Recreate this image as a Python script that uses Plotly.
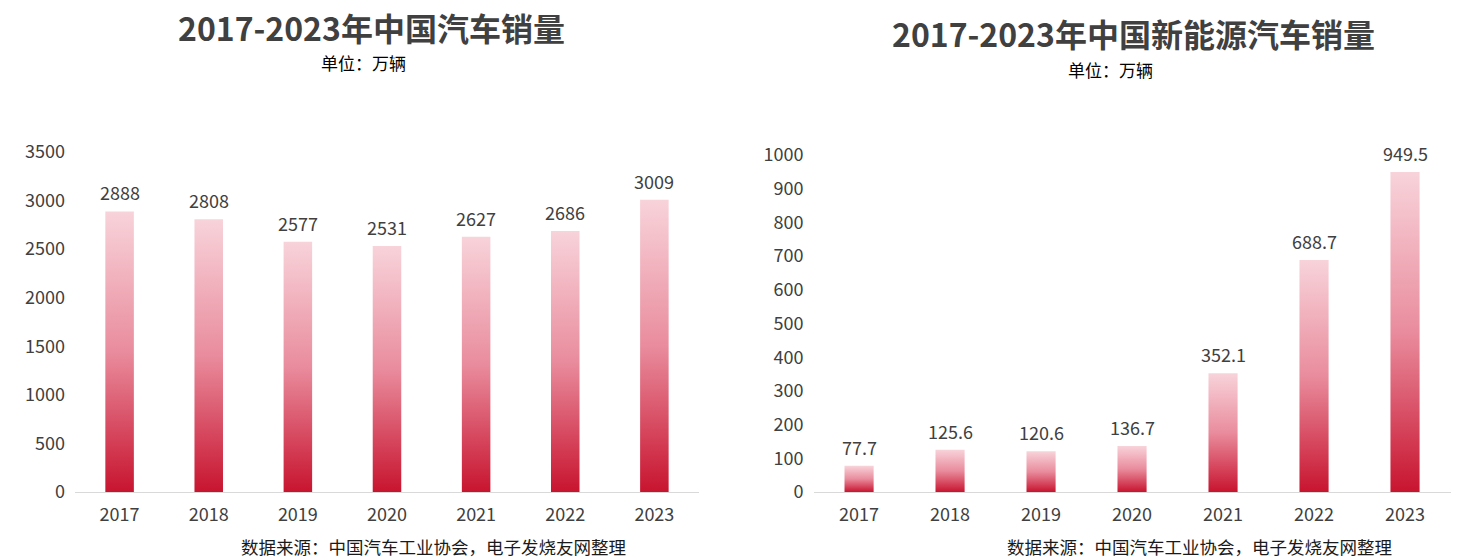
import plotly.graph_objects as go

years = ['2017', '2018', '2019', '2020', '2021', '2022', '2023']
total_sales = [2888, 2808, 2577, 2531, 2627, 2686, 3009]
nev_sales = [77.7, 125.6, 120.6, 136.7, 352.1, 688.7, 949.5]

title_left = '2017-2023年中国汽车销量'
title_right = '2017-2023年中国新能源汽车销量'
unit_text = '单位：万辆'
source_text = '数据来源：中国汽车工业协会，电子发烧友网整理'

FONT = 'Noto Sans CJK SC'
TXT = '#404040'
GRAD = [[0, '#C8142F'], [0.5, '#E98C9D'], [1, '#F8D3DA']]
HALF_W = 0.16

fig = go.Figure()


def add_bars(values, xa, ya, fmt):
    for i, v in enumerate(values):
        fig.add_trace(go.Scatter(
            x=[i - HALF_W, i + HALF_W, i + HALF_W, i - HALF_W, i - HALF_W],
            y=[0, 0, v, v, 0],
            mode='lines', fill='toself',
            line=dict(width=0, color='rgba(0,0,0,0)'),
            fillgradient=dict(type='vertical', colorscale=GRAD),
            xaxis=xa, yaxis=ya, showlegend=False, hoverinfo='skip'))
        fig.add_annotation(x=i, y=v, xref=xa, yref=ya, text=fmt(v),
                           showarrow=False, yanchor='bottom', yshift=4,
                           font=dict(family=FONT, size=18, color=TXT))


add_bars(total_sales, 'x', 'y', lambda v: f'{v:d}')
add_bars(nev_sales, 'x2', 'y2', lambda v: f'{v:.1f}')

axis_x = dict(range=[-0.5, 6.5], tickvals=list(range(len(years))), ticktext=years,
              showline=True, linecolor='#D9D9D9', linewidth=1, showgrid=False,
              zeroline=False, ticks='', ticklabelstandoff=6,
              tickfont=dict(family=FONT, size=18, color=TXT))
axis_y = dict(showgrid=False, zeroline=False, showline=False, ticks='',
              ticklabelstandoff=9,
              tickfont=dict(family=FONT, size=18, color=TXT))

fig.update_layout(
    width=1483, height=560,
    margin=dict(l=0, r=0, t=0, b=0, autoexpand=False),
    paper_bgcolor='white', plot_bgcolor='white',
    font=dict(family=FONT, color=TXT),
    xaxis=dict(axis_x, domain=[0.0506, 0.4713], anchor='y', automargin=False),
    yaxis=dict(axis_y, domain=[0.1214, 0.7286], range=[0, 3500], dtick=500, anchor='x', automargin=False),
    xaxis2=dict(axis_x, domain=[0.5486, 0.9781], anchor='y2', automargin=False),
    yaxis2=dict(axis_y, domain=[0.1214, 0.7232], range=[0, 1000], dtick=100, anchor='x2', automargin=False),
)

texts = [
    (title_left, 0.2508, 1 - 27 / 560, 32, '#404040', True),
    (title_right, 0.764, 1 - 33 / 560, 32, '#404040', True),
    (unit_text, 0.2454, 1 - 62 / 560, 17, '#000000', False),
    (unit_text, 0.7485, 1 - 69 / 560, 17, '#000000', False),
    (source_text, 0.292, 1 - 546 / 560, 17.5, '#1a1a1a', False),
    (source_text, 0.8085, 1 - 546 / 560, 17.5, '#1a1a1a', False),
]
for t, x, y, s, c, b in texts:
    fig.add_annotation(x=x, y=y, xref='paper', yref='paper', text=f'<b>{t}</b>' if b else t,
                       showarrow=False, xanchor='center', yanchor='middle',
                       font=dict(family=FONT, size=s, color=c))

fig.write_html('out.html')
